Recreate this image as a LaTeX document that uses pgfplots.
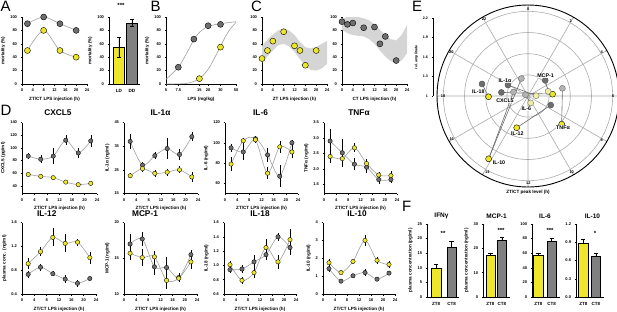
\documentclass[border=0pt]{standalone}
\usepackage{pgfplots}
\pgfplotsset{compat=1.18}
\usepgfplotslibrary{polar}
\usepackage{fontspec}
\setmainfont{Liberation Sans}
\definecolor{yel}{HTML}{EDE62A}
\definecolor{pyel}{HTML}{F0EDA6}
\definecolor{gry}{HTML}{6E6E6E}
\definecolor{lgry}{HTML}{B4B4B4}
\definecolor{ring}{HTML}{ABABAB}
\definecolor{band}{HTML}{D5D5D5}
\definecolor{fitc}{HTML}{A0A0A0}
\definecolor{bgry}{HTML}{808080}
\newcommand\tf{\fontsize{4}{4.5}\selectfont\bfseries}
\newcommand\lf{\fontsize{4.6}{5}\selectfont\bfseries}
\pgfplotsset{
  every non boxed x axis/.append style={x axis line style={-}, xtick align=outside},
  every non boxed y axis/.append style={y axis line style={-}, ytick align=outside},
  base/.style={scale only axis, anchor=south west, axis lines=left,
    axis line style={-, line width=0.5pt, black},
    tick align=outside, major tick length=1.5pt, tick style={line width=0.5pt, black},
    enlargelimits=false, clip=false,
    tick label style={font=\tf}, label style={font=\lf},
    /pgf/number format/assume math mode=true,
    xlabel style={yshift=2pt}, ylabel style={yshift=-2pt}},
  dpan/.style={base, xmin=0, xmax=24, xtick={0,4,...,24}, xlabel={ZT/CT LPS injection (h)}},
  fit/.style={fitc, line width=0.6pt, smooth, no marks},
  gpt/.style={only marks, mark=*, mark size=#1, mark options={fill=gry, draw=black, line width=0.35pt},
    error bars/y dir=both, error bars/y explicit, error bars/error mark=none,
    error bars/error bar style={black, line width=0.5pt}},
  gpt/.default=2.2pt,
  ypt/.style={only marks, mark=*, mark size=#1, mark options={fill=yel, draw=black, line width=0.35pt},
    error bars/y dir=both, error bars/y explicit, error bars/error mark=none,
    error bars/error bar style={black, line width=0.5pt}},
  ypt/.default=2.2pt,
  bigg/.style={only marks, mark=*, mark size=3pt, mark options={fill=gry, draw=black, line width=0.4pt}},
  bigy/.style={only marks, mark=*, mark size=3pt, mark options={fill=yel, draw=black, line width=0.4pt}},
  fbar/.style={ybar, bar shift=0pt, bar width=9.5pt, draw=black, line width=0.5pt,
    error bars/y dir=plus, error bars/y explicit,
    error bars/error mark options={rotate=90, mark size=2.2pt, line width=0.5pt},
    error bars/error bar style={black, line width=0.5pt}},
  fax/.style={base, ymin=0, xtick={0,1}, xticklabels={ZT8,CT8}, xtick style={draw=none},
    xticklabel style={font=\fontsize{4.5}{5}\selectfont\bfseries}},
}
\begin{document}
\begin{tikzpicture}
\path[use as bounding box] (0,0) rectangle (617pt,-311pt);

% ---------------- panel letters
\begin{scope}[every node/.style={font=\fontsize{15}{15}\selectfont, inner sep=0pt, anchor=north west}]
\node at (0.5pt,-1pt) {A};
\node at (150.5pt,-0.5pt) {B};
\node at (251pt,-0.5pt) {C};
\node at (0.5pt,-105pt) {D};
\node at (412pt,-1pt) {E};
\node at (402pt,-201pt) {F};
\end{scope}

% ---------------- A left
\begin{axis}[base, at={(22pt,-84pt)}, width=65pt, height=67pt,
  xmin=0, xmax=24, xtick={0,4,...,24}, ymin=0, ymax=100, ytick={0,20,...,100},
  xlabel={ZT/CT LPS injection (h)}, ylabel={mortality (\%)}]
\addplot[fit] coordinates {(2,90)(8,100)(14,90)(20,80)};
\addplot[fit] coordinates {(2,50)(8,80)(14,50)(20,40)};
\addplot[bigg] coordinates {(2,90)(8,100)(14,90)(20,80)};
\addplot[bigy] coordinates {(2,50)(8,80)(14,50)(20,40)};
\end{axis}

% ---------------- A right (bars)
\begin{axis}[base, at={(109pt,-84pt)}, width=31pt, height=67pt,
  xmin=-0.77, xmax=1.62, ymin=0, ymax=100, ytick={0,20,...,100},
  xtick={0,1}, xticklabels={LD,DD}, xtick style={draw=none},
  xticklabel style={font=\fontsize{4.6}{5}\selectfont\bfseries},
  ylabel={mortality (\%)}]
\addplot[fbar, bar width=11.5pt, fill=yel, error bars/y dir=both] coordinates {(0,55) +- (0,15)};
\addplot[fbar, bar width=11.5pt, fill=bgry, error bars/y dir=both] coordinates {(1,91) +- (0,5)};
\end{axis}
\node[font=\fontsize{6}{6}\selectfont\bfseries] at (121pt,-5pt) {***};

% ---------------- B
\begin{axis}[base, at={(166pt,-84pt)}, width=70pt, height=67pt, xmode=log,
  xmin=5, xmax=50, xtick={5,7.5,15,20,30,50}, xticklabels={5,7.5,15,20,30,50},
  ymin=0, ymax=100, ytick={0,20,...,100},
  xlabel={LPS (mg/kg)}, ylabel={mortality (\%)}]
\addplot[fit] coordinates {(5,7)(7.5,25)(10,47)(12.5,66)(15,77)(20,86)(30,90)(50,93)};
\addplot[fit] coordinates {(5,0)(10,1)(15,8)(20,22)(25,40)(30,56)(35,70)(40,80)(50,92)};
\addplot[bigg] coordinates {(7.5,25)(12.5,67)(20,87)(30,89)};
\addplot[bigy] coordinates {(15,8)(30,55)};
\end{axis}

% ---------------- C left
\begin{axis}[base, at={(262pt,-84pt)}, width=65pt, height=67pt,
  xmin=0, xmax=24, xtick={0,4,...,24}, ymin=0, ymax=100, ytick={0,20,...,100},
  xlabel={ZT LPS injection (h)}]
\addplot[fill=band, draw=none] coordinates {(0,57)(2,66)(4,74)(6,80)(8,83)(10,80)(12,73)(14,63)(16,55)(18,53)(20,55)(22,60)(24,64)
  (24,30)(22,23)(20,20)(18,21)(16,27)(14,37)(12,48)(10,56)(8,60)(6,58)(4,50)(2,41)(0,32)} -- cycle;
\addplot[bigy] coordinates {(0,38)(2,50)(4,64)(8,78)(12,57)(14,50)(16,28)(20,50)};
\end{axis}

% ---------------- C right
\begin{axis}[base, at={(342pt,-84pt)}, width=65pt, height=67pt,
  xmin=0, xmax=24, xtick={0,4,...,24}, ymin=0, ymax=100, ytick={0,20,...,100},
  xlabel={CT LPS injection (h)}]
\addplot[fill=band, draw=none] coordinates {(0,98)(2,100)(4,100)(6,100)(8,98)(10,95)(12,89)(14,81)(16,73)(18,67)(20,65)(22,73)(24,88)
  (24,46)(22,35)(20,31)(18,34)(16,41)(14,50)(12,60)(10,67)(8,71)(6,72)(4,73)(2,76)(0,81)} -- cycle;
\addplot[bigg] coordinates {(0,93)(2,89)(4,91)(8,84)(12,85)(14,60)(16,71)(20,35)};
\end{axis}

% ---------------- E radial scale
\begin{axis}[base, at={(433pt,-96pt)}, width=4pt, height=77.7pt,
  xmin=0, xmax=1, ymin=1, ymax=2.2, axis x line=none, axis y line=left,
  ytick={1,1.3,1.6,1.9,2.2}, yticklabels={1,1.3,1.6,1.9,2.2},
  yticklabel style={font=\fontsize{3.6}{4}\selectfont\bfseries},
  ylabel={rel. amplitude}, ylabel style={font=\fontsize{3.6}{4}\selectfont\bfseries}]
\addplot[draw=none] coordinates {(0,1)};
\end{axis}

% ---------------- E polar
\begin{polaraxis}[at={(528pt,-96pt)}, anchor=origin, scale only axis, width=182pt, height=182pt,
  ymin=0, ymax=1.29, ytick={0.3,0.6,0.9,1.2}, yticklabels={},
  xtick={0,30,...,330}, xticklabels={},
  xmajorgrids=true, ymajorgrids=true, grid style={ring, line width=0.6pt},
  axis line style={line width=0.9pt, black},
  y axis line style={draw=none}, ytick style={draw=none},
  xtick style={black, line width=0.5pt}, tick align=outside, major tick length=1.2pt,
  clip=false]
\addplot[gry, line width=0.6pt] coordinates {(165.3,0.674)(181.1,0.559)};
\addplot[gry, line width=0.6pt] coordinates {(172.3,0.381)(4.3,0.349)};
\addplot[gry, line width=0.6pt] coordinates {(151.3,0.324)(2.3,0.115)};
\addplot[gry, line width=0.6pt] coordinates {(42.3,0.33)(13.2,0.293)};
\addplot[gry, line width=0.6pt] coordinates {(12.6,0.5)(320.1,0.622)};
\addplot[gry, line width=0.6pt] coordinates {(338.2,0.347)(250.4,0.478)};
\addplot[gry, line width=0.6pt] coordinates {(110.6,0.265)(237.9,1.051)};
\addplot[gry, line width=0.6pt] coordinates {(164.5,0.214)(237.9,1.051)};
\addplot[gry, line width=0.6pt] coordinates {(156,0.04)(290.9,0.105)};
\addplot[only marks, mark=*, mark size=3pt, mark options={fill=gry, draw=gry!70!black, line width=0.4pt}]
  coordinates {(165.3,0.674)(151.3,0.324)(172.3,0.381)(42.3,0.33)(338.2,0.347)};
\addplot[only marks, mark=*, mark size=3pt, mark options={fill=lgry, draw=gry, line width=0.4pt}]
  coordinates {(110.6,0.265)(164.5,0.214)(156,0.04)(12.6,0.5)};
\addplot[only marks, mark=*, mark size=3pt, mark options={fill=yel, draw=black, line width=0.4pt}]
  coordinates {(181.1,0.559)(4.3,0.349)(320.1,0.622)(250.4,0.478)(237.9,1.051)};
\addplot[only marks, mark=*, mark size=3pt, mark options={fill=pyel, draw=gry, line width=0.4pt}]
  coordinates {(2.3,0.115)(13.2,0.293)(290.9,0.105)};
\end{polaraxis}
% hour labels around the dial
\begin{scope}[every node/.style={font=\fontsize{3.9}{4}\selectfont\bfseries, inner sep=0pt}]
\node at (528.3pt,-9.3pt) {0};
\node at (570.7pt,-20.7pt) {2};
\node at (601.7pt,-52.3pt) {4};
\node at (613.3pt,-96.5pt) {6};
\node at (601.7pt,-140pt) {8};
\node at (571.7pt,-171.7pt) {10};
\node at (528.3pt,-182.7pt) {12};
\node at (487.3pt,-172pt) {14};
\node at (451.7pt,-139.3pt) {16};
\node at (443pt,-96.5pt) {18};
\node at (451.3pt,-51.7pt) {20};
\node at (484pt,-19.3pt) {22};
\end{scope}
\begin{scope}[every node/.style={font=\fontsize{5.3}{6}\selectfont\bfseries, fill=white, inner sep=0.3pt, fill opacity=0.85, text opacity=1}]
\node at (545.5pt,-75.7pt) {MCP-1};
\node at (505pt,-80.7pt) {IL-1α};
\node at (478.3pt,-92pt) {IL-18};
\node at (505pt,-100.7pt) {CXCL5};
\node at (526.3pt,-109pt) {IL-6};
\node at (517.3pt,-133.3pt) {IL-12};
\node at (563pt,-127.3pt) {TNFα};
\node at (499pt,-162.7pt) {IL-10};
\end{scope}
\node[font=\lf] at (528pt,-192.5pt) {ZT/CT peak level (h)};

% ---------------- D titles
\begin{scope}[every node/.style={font=\fontsize{8.3}{9}\selectfont\bfseries}]
\node at (58pt,-113pt) {CXCL5};
\node at (160.5pt,-113pt) {IL-1α};
\node at (260.5pt,-113pt) {IL-6};
\node at (359pt,-113pt) {TNFα};
\node at (46.7pt,-213.5pt) {IL-12};
\node at (145pt,-213.5pt) {MCP-1};
\node at (260pt,-213.5pt) {IL-18};
\node at (357pt,-213.5pt) {IL-10};
\end{scope}

% CXCL5
\begin{axis}[dpan, at={(22pt,-193.5pt)}, width=75pt, height=71pt,
  ymin=28, ymax=140, ytick={40,60,...,140}, ylabel={CXCL5 (pg/ml)}]
\addplot[fit] coordinates {(2,87)(6,82)(10,87)(14,112)(18,92)(22,111)};
\addplot[fit] coordinates {(2,58)(6,55)(10,53)(14,46)(18,42)(22,44)};
\addplot[gpt] coordinates {(2,87) +- (0,5) (6,82) +- (0,6) (10,87) +- (0,13) (14,112) +- (0,8) (18,92) +- (0,8) (22,111) +- (0,9)};
\addplot[ypt] coordinates {(2,58) +- (0,3) (6,55) +- (0,2) (10,53) +- (0,3) (14,46) +- (0,2) (18,42) +- (0,2) (22,44) +- (0,2)};
\end{axis}

% IL-1a
\begin{axis}[dpan, at={(124pt,-193.5pt)}, width=74pt, height=71pt,
  ymin=15, ymax=45, ytick={15,25,35,45}, ylabel={IL-1α (ng/ml)}]
\addplot[fit] coordinates {(2,37)(6,27)(10,31)(14,34)(18,31.5)(22,39)};
\addplot[fit] coordinates {(2,22.5)(6,25.5)(10,23.5)(14,24)(18,25)(22,22)};
\addplot[gpt] coordinates {(2,37) +- (0,3) (6,27) +- (0,1.5) (10,31) +- (0,1.5) (14,34) +- (0,4.5) (18,31.5) +- (0,2.5) (22,39) +- (0,2)};
\addplot[ypt] coordinates {(2,22.5) +- (0,1) (6,25.5) +- (0,1.5) (10,23.5) +- (0,1.5) (14,24) +- (0,1.5) (18,25) +- (0,1.5) (22,22) +- (0,2)};
\end{axis}

% IL-6
\begin{axis}[dpan, at={(225pt,-193.5pt)}, width=73pt, height=71pt,
  ymin=50, ymax=120, ytick={60,80,100,120}, ylabel={IL-6 (ng/ml)}]
\addplot[fit] coordinates {(2,95)(6,91)(10,104)(14,88)(18,67)(22,100)};
\addplot[fit] coordinates {(2,79)(6,102)(10,103)(14,70)(18,96)(22,91)};
\addplot[gpt] coordinates {(2,95) +- (0,4) (6,91) +- (0,8) (10,104) +- (0,3) (14,88) +- (0,7) (18,67) +- (0,11) (22,100) +- (0,3)};
\addplot[ypt] coordinates {(2,79) +- (0,7) (6,102) +- (0,3) (10,103) +- (0,3) (14,70) +- (0,6) (18,96) +- (0,6) (22,91) +- (0,6)};
\end{axis}

% TNFa
\begin{axis}[dpan, at={(324pt,-193.5pt)}, width=73pt, height=71pt,
  ymin=1.2, ymax=3.5, ytick={1.5,2.0,2.5,3.0,3.5},
  yticklabel style={/pgf/number format/.cd, fixed, fixed zerofill, precision=1},
  ylabel={TNFα (ng/ml)}]
\addplot[fit] coordinates {(2,2.9)(6,2.52)(10,2.15)(14,2.05)(18,1.65)(22,1.65)};
\addplot[fit] coordinates {(2,2.4)(6,2.33)(10,2.68)(14,2.17)(18,1.8)(22,1.78)};
\addplot[gpt] coordinates {(2,2.9) +- (0,0.4) (6,2.52) +- (0,0.45) (10,2.15) +- (0,0.2) (14,2.05) +- (0,0.2) (18,1.65) +- (0,0.15) (22,1.65) +- (0,0.1)};
\addplot[ypt] coordinates {(2,2.4) +- (0,0.2) (6,2.33) +- (0,0.2) (10,2.68) +- (0,0.15) (14,2.17) +- (0,0.15) (18,1.8) +- (0,0.1) (22,1.78) +- (0,0.15)};
\end{axis}

% IL-12
\begin{axis}[dpan, at={(22pt,-294pt)}, width=74pt, height=71.5pt,
  ymin=0.4, ymax=1.6, ytick={0.4,0.8,1.2,1.6}, ylabel={plasma conc. (ng/ml)}]
\addplot[fit] coordinates {(2,0.91)(6,1.11)(10,1.35)(14,1.25)(18,1.27)(22,1.01)};
\addplot[fit] coordinates {(2,0.73)(6,0.85)(10,0.74)(14,0.65)(18,0.58)(22,0.66)};
\addplot[gpt] coordinates {(2,0.73) +- (0,0.06) (6,0.85) +- (0,0.06) (10,0.74) +- (0,0.04) (14,0.65) +- (0,0.07) (18,0.58) +- (0,0.06) (22,0.66) +- (0,0.03)};
\addplot[ypt] coordinates {(2,0.91) +- (0,0.09) (6,1.11) +- (0,0.08) (10,1.35) +- (0,0.15) (14,1.25) +- (0,0.15) (18,1.27) +- (0,0.06) (22,1.01) +- (0,0.1)};
\end{axis}

% MCP-1
\begin{axis}[dpan, at={(124pt,-294pt)}, width=73pt, height=71.5pt,
  ymin=10, ymax=20, ytick={10,15,20}, ylabel={MCP-1 (ng/ml)}]
\addplot[fit] coordinates {(2,17)(6,17.7)(10,13.8)(14,13.7)(18,12.3)(22,15.5)};
\addplot[fit] coordinates {(2,15.7)(6,15.1)(10,15.2)(14,11.9)(18,12.2)(22,14.5)};
\addplot[gpt] coordinates {(2,17) +- (0,1.4) (6,17.7) +- (0,1) (10,13.8) +- (0,1.2) (14,13.7) +- (0,1.5) (18,12.3) +- (0,0.6) (22,15.5) +- (0,0.7)};
\addplot[ypt] coordinates {(2,15.7) +- (0,1) (6,15.1) +- (0,1.2) (10,15.2) +- (0,0.8) (14,11.9) +- (0,1.2) (18,12.2) +- (0,0.5) (22,14.5) +- (0,1)};
\end{axis}

% IL-18
\begin{axis}[dpan, at={(224pt,-294pt)}, width=72pt, height=71.5pt,
  ymin=0.6, ymax=1.6, ytick={0.6,0.8,...,1.6},
  yticklabel style={/pgf/number format/.cd, fixed, fixed zerofill, precision=1},
  ylabel={IL-18 (ng/ml)}]
\addplot[fit] coordinates {(2,0.94)(6,0.95)(10,1.05)(14,1.15)(18,1.4)(22,1.25)};
\addplot[fit] coordinates {(2,1.01)(6,0.79)(10,0.9)(14,1.25)(18,1.05)(22,1.36)};
\addplot[gpt] coordinates {(2,0.94) +- (0,0.04) (6,0.95) +- (0,0.05) (10,1.05) +- (0,0.1) (14,1.15) +- (0,0.08) (18,1.4) +- (0,0.06) (22,1.25) +- (0,0.1)};
\addplot[ypt] coordinates {(2,1.01) +- (0,0.05) (6,0.79) +- (0,0.05) (10,0.9) +- (0,0.08) (14,1.25) +- (0,0.12) (18,1.05) +- (0,0.1) (22,1.36) +- (0,0.15)};
\end{axis}

% IL-10
\begin{axis}[dpan, at={(323pt,-294pt)}, width=72pt, height=71.5pt,
  ymin=0, ymax=4, ytick={0,1,...,4}, ylabel={IL-10 (ng/ml)}]
\addplot[fit] coordinates {(2,1.42)(6,0.72)(10,1.02)(14,1.2)(18,0.83)(22,1.17)};
\addplot[fit] coordinates {(2,1.75)(6,1.2)(10,1.82)(14,3.0)(18,1.88)(22,1.65)};
\addplot[gpt] coordinates {(2,1.42) +- (0,0.2) (6,0.72) +- (0,0.1) (10,1.02) +- (0,0.08) (14,1.2) +- (0,0.2) (18,0.83) +- (0,0.1) (22,1.17) +- (0,0.1)};
\addplot[ypt] coordinates {(2,1.75) +- (0,0.2) (6,1.2) +- (0,0.1) (10,1.82) +- (0,0.1) (14,3.0) +- (0,0.3) (18,1.88) +- (0,0.2) (22,1.65) +- (0,0.2)};
\end{axis}

% ---------------- F
\begin{scope}[every node/.style={font=\fontsize{6.5}{7}\selectfont\bfseries}]
\node at (441.5pt,-216pt) {IFNγ};
\node at (496.5pt,-216pt) {MCP-1};
\node at (545pt,-216pt) {IL-6};
\node at (592.5pt,-216pt) {IL-10};
\end{scope}
\begin{scope}[every node/.style={font=\fontsize{6}{6}\selectfont\bfseries}]
\node at (443pt,-233pt) {**};
\node at (501pt,-230pt) {***};
\node at (550pt,-230pt) {***};
\node at (595pt,-233pt) {*};
\end{scope}

\begin{axis}[fax, at={(427pt,-297pt)}, width=32pt, height=73pt,
  xmin=-0.58, xmax=1.48, ymax=25, ytick={0,5,...,25},
  ylabel={plasma concentration (pg/ml)}]
\addplot[fbar, fill=yel] coordinates {(0,10) +- (0,1.3)};
\addplot[fbar, fill=bgry] coordinates {(1,17) +- (0,2)};
\end{axis}

\begin{axis}[fax, at={(483pt,-297pt)}, width=27pt, height=73pt,
  xmin=-0.65, xmax=1.7, ymax=30, ytick={0,10,20,30},
  ylabel={plasma concentration (ng/ml)}]
\addplot[fbar, bar width=9pt, fill=yel] coordinates {(0,17) +- (0,0.8)};
\addplot[fbar, bar width=9pt, fill=bgry] coordinates {(1,23.5) +- (0,1.2)};
\end{axis}

\begin{axis}[fax, at={(532pt,-297pt)}, width=28pt, height=73pt,
  xmin=-0.47, xmax=1.62, ymax=100, ytick={0,20,...,100}]
\addplot[fbar, fill=yel] coordinates {(0,57) +- (0,2.5)};
\addplot[fbar, fill=bgry] coordinates {(1,77) +- (0,4)};
\end{axis}

\begin{axis}[fax, at={(576pt,-297pt)}, width=28pt, height=73pt,
  xmin=-0.57, xmax=1.63, ymax=1.2, ytick={0,0.3,...,1.2},
  yticklabel style={/pgf/number format/.cd, fixed, fixed zerofill, precision=1}]
\addplot[fbar, fill=yel] coordinates {(0,0.88) +- (0,0.07)};
\addplot[fbar, fill=bgry] coordinates {(1,0.67) +- (0,0.05)};
\end{axis}

\end{tikzpicture}
\end{document}
